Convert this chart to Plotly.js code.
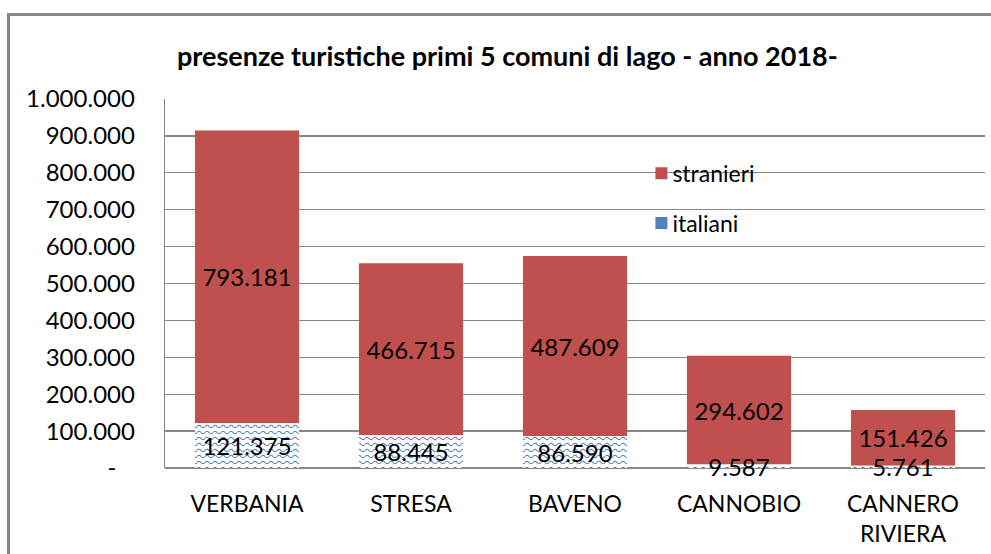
<!DOCTYPE html>
<html>
<head>
<meta charset="utf-8">
<script src="https://cdn.plot.ly/plotly-3.0.1.min.js"></script>
<style>
  html, body { margin: 0; padding: 0; background: #fff; overflow: hidden; }
  #chart { width: 991px; height: 554px; }
  #frame { position: absolute; left: 7px; top: 13px; width: 1100px; height: 700px;
           border: 3px solid #878787; pointer-events: none; }
</style>
</head>
<body>
<div id="chart"></div>
<div id="frame"></div>
<script>
const categories = ["VERBANIA", "STRESA", "BAVENO", "CANNOBIO", "CANNERO<br>RIVIERA"];
const italiani = [121375, 88445, 86590, 9587, 5761];
const stranieri = [793181, 466715, 487609, 294602, 151426];
const tickValues = [0, 100000, 200000, 300000, 400000, 500000, 600000, 700000, 800000, 900000, 1000000];
const tickLabels = ["-\u00a0\u00a0\u00a0", "100.000", "200.000", "300.000", "400.000", "500.000",
                    "600.000", "700.000", "800.000", "900.000", "1.000.000"];
const titleText = "presenze turistiche primi 5 comuni di lago - anno 2018-";

const FONT = "Lato, 'Open Sans', sans-serif";
const BLUE = "#4F81BD", RED = "#C0504D", GRID = "#878787";

const data = [
  {
    type: "bar", name: "stranieri", x: categories, y: stranieri, base: italiani,
    legendgroup: "st",
    marker: { color: RED, line: { width: 0 } },
    texttemplate: "%{y:,.0f}", textposition: "inside", insidetextanchor: "middle",
    textangle: 0, constraintext: "none", cliponaxis: false,
    textfont: { family: FONT, size: 24, color: "#000" },
    hoverinfo: "skip"
  },
  {
    type: "bar", name: "italiani", x: categories, y: italiani,
    legendgroup: "it",
    marker: { color: "#ffffff", line: { width: 0 },
              pattern: { shape: "-", fgcolor: BLUE, bgcolor: "#ffffff", size: 6, solidity: 0.3 } },
    texttemplate: "%{y:,.0f}", textposition: "inside", insidetextanchor: "middle",
    textangle: 0, constraintext: "none", cliponaxis: false,
    textfont: { family: FONT, size: 24, color: "#000" },
    hoverinfo: "skip"
  }
];

const layout = {
  width: 991, height: 554,
  paper_bgcolor: "#ffffff", plot_bgcolor: "#ffffff",
  separators: ",.",
  font: { family: FONT, size: 23, color: "#000" },
  margin: { l: 165, r: 6, t: 99, b: 86, pad: 0 },
  barmode: "overlay", bargap: 0.365,
  uniformtext: { mode: "show", minsize: 24 },
  title: { text: "<b>" + titleText + "</b>", x: 0.512, xanchor: "center",
           y: 1 - 57 / 554, yanchor: "middle",
           font: { family: FONT, size: 27, color: "#000" } },
  xaxis: {
    type: "category", showgrid: false, zeroline: false,
    showline: false, ticks: "", ticklabelstandoff: 20,
    tickfont: { family: FONT, size: 23, color: "#000" }
  },
  yaxis: {
    range: [0, 1000000], tickmode: "array", tickvals: tickValues, ticktext: tickLabels,
    showgrid: true, gridcolor: GRID, gridwidth: 1.3,
    zeroline: true, zerolinecolor: GRID, zerolinewidth: 1.3,
    showline: true, linecolor: GRID, linewidth: 1.3,
    ticks: "", ticklabelstandoff: 24,
    tickfont: { family: FONT, size: 24, color: "#000" }
  },
  showlegend: true,
  legend: {
    x: 0.57, xanchor: "left", y: 0.857, yanchor: "top",
    bgcolor: "rgba(0,0,0,0)", traceorder: "grouped", tracegroupgap: 17,
    font: { family: FONT, size: 23, color: "#000" },
    itemwidth: 30
  }
};

Plotly.newPlot("chart", data, layout, { displayModeBar: false, staticPlot: true }).then(function (gd) {
  const NS = "http://www.w3.org/2000/svg";
  gd.querySelectorAll("pattern").forEach(function (p) {
    p.setAttribute("width", "8");
    p.setAttribute("height", "6");
    while (p.firstChild) p.removeChild(p.firstChild);
    const r = document.createElementNS(NS, "rect");
    r.setAttribute("width", "8"); r.setAttribute("height", "6"); r.setAttribute("fill", "#ffffff");
    p.appendChild(r);
    const w = document.createElementNS(NS, "path");
    w.setAttribute("d", "M0,3.5 Q2,1 4,3.5 T8,3.5");
    w.setAttribute("fill", "none");
    w.setAttribute("stroke", BLUE);
    w.setAttribute("stroke-width", "1.1");
    p.appendChild(w);
  });
  gd.querySelectorAll(".legend .traces").forEach(function (t) {
    const pts = t.querySelector(".legendpoints");
    if (pts) pts.setAttribute("transform", "translate(9,0)");
    const txt = t.querySelector(".legendtext");
    if (txt && txt.textContent === "italiani") {
      t.querySelectorAll(".legendpoints path").forEach(function (pp) {
        pp.style.fill = BLUE;
      });
    }
  });
});
</script>
</body>
</html>
